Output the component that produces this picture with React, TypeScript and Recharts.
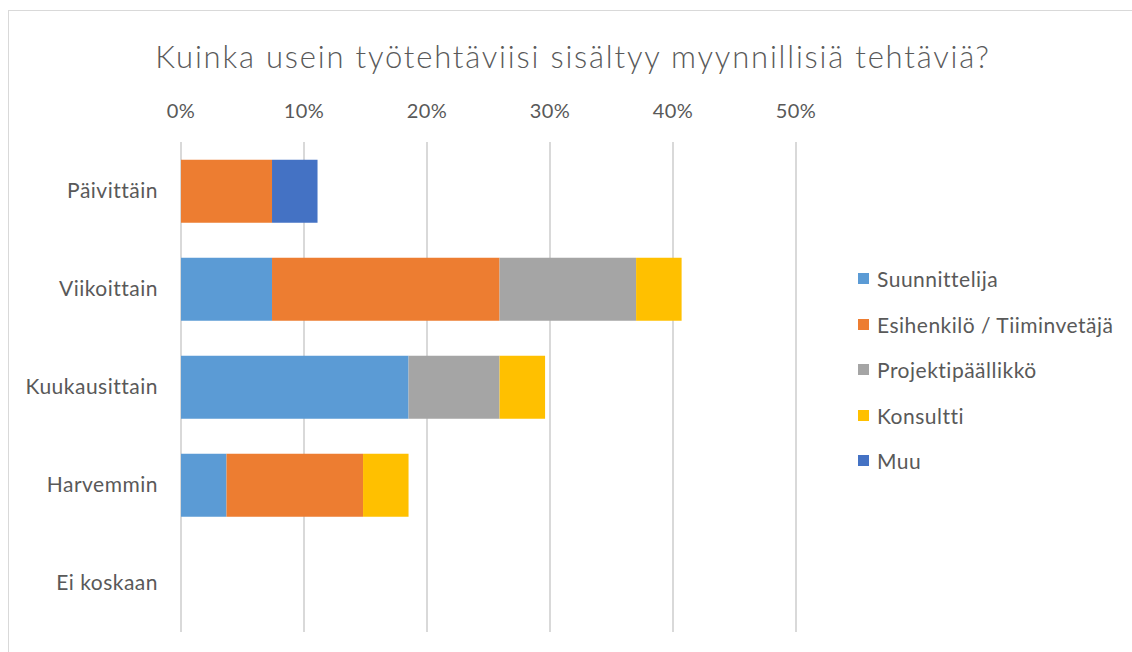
import React from "react"
import { BarChart, Bar, XAxis, YAxis, CartesianGrid } from "recharts"

// vastausten jakauma ryhmittäin (osuus kaikista vastaajista)
const categories = ["Päivittäin", "Viikoittain", "Kuukausittain", "Harvemmin", "Ei koskaan"]
const suunnittelija = [0, 0.074, 0.185, 0.037, 0]
const esihenkilo = [0.074, 0.185, 0, 0.111, 0]
const projektipaallikko = [0, 0.111, 0.074, 0, 0]
const konsultti = [0, 0.037, 0.037, 0.037, 0]
const muu = [0.037, 0, 0, 0, 0]
const xTicks = [0, 0.1, 0.2, 0.3, 0.4, 0.5]

const series = [
  { key: "suunnittelija", name: "Suunnittelija", color: "#5B9BD5", values: suunnittelija },
  { key: "esihenkilo", name: "Esihenkilö / Tiiminvetäjä", color: "#ED7D31", values: esihenkilo },
  { key: "projektipaallikko", name: "Projektipäällikkö", color: "#A5A5A5", values: projektipaallikko },
  { key: "konsultti", name: "Konsultti", color: "#FFC000", values: konsultti },
  { key: "muu", name: "Muu", color: "#4472C4", values: muu },
]

const data = categories.map((name, i) => {
  const row: Record<string, string | number> = { name }
  series.forEach((s) => {
    row[s.key] = s.values[i]
  })
  return row
})

const FONT = "Lato, Carlito, Calibri, sans-serif"
const TEXT = "#595959"

export default function App() {
  return (
    <div
      style={{
        position: "absolute",
        left: 0,
        top: 0,
        width: 1132,
        height: 652,
        overflow: "hidden",
        background: "#fff",
        fontFamily: FONT,
      }}
    >
      {/* chart frame, cut off at right and bottom like the screenshot */}
      <div
        style={{
          position: "absolute",
          left: 8,
          top: 10,
          width: 1140,
          height: 700,
          border: "1.5px solid #d9d9d9",
        }}
      />
      <div
        style={{
          position: "absolute",
          left: 0,
          top: 37,
          width: 1146,
          textAlign: "center",
          fontSize: 31,
          fontWeight: 300,
          letterSpacing: 1.8,
          color: TEXT,
        }}
      >
        Kuinka usein työtehtäviisi sisältyy myynnillisiä tehtäviä?
      </div>
      <div style={{ position: "absolute", left: 0, top: 0 }}>
        <BarChart
          width={1132}
          height={652}
          data={data}
          layout="vertical"
          barCategoryGap="18%"
          margin={{ top: 0, right: 336, bottom: 20, left: 0 }}
        >
          <CartesianGrid horizontal={false} stroke="#d9d9d9" strokeWidth={2} />
          <XAxis
            type="number"
            orientation="top"
            domain={[0, 0.5]}
            ticks={xTicks}
            height={142}
            axisLine={false}
            tickLine={false}
            tickMargin={18}
            interval={0}
            tickFormatter={(v: number) => `${Math.round(v * 100)}%`}
            tick={{ fill: TEXT, fontSize: 20, fontFamily: FONT, letterSpacing: 0.5 }}
          />
          <YAxis
            type="category"
            dataKey="name"
            width={181}
            axisLine={false}
            tickLine={false}
            tickMargin={17}
            interval={0}
            tick={{ fill: TEXT, fontSize: 21, fontFamily: FONT, letterSpacing: 0.5 }}
          />
          {series.map((s) => (
            <Bar
              key={s.key}
              dataKey={s.key}
              name={s.name}
              stackId="a"
              fill={s.color}
              isAnimationActive={false}
            />
          ))}
        </BarChart>
      </div>
      <div style={{ position: "absolute", left: 858, top: 256 }}>
        {series.map((s) => (
          <div
            key={s.key}
            style={{
              display: "flex",
              alignItems: "center",
              height: 45.5,
              fontSize: 21,
              letterSpacing: 0.5,
              color: TEXT,
            }}
          >
            <span style={{ width: 11, height: 11, background: s.color, marginRight: 8 }} />
            {s.name}
          </div>
        ))}
      </div>
    </div>
  )
}
